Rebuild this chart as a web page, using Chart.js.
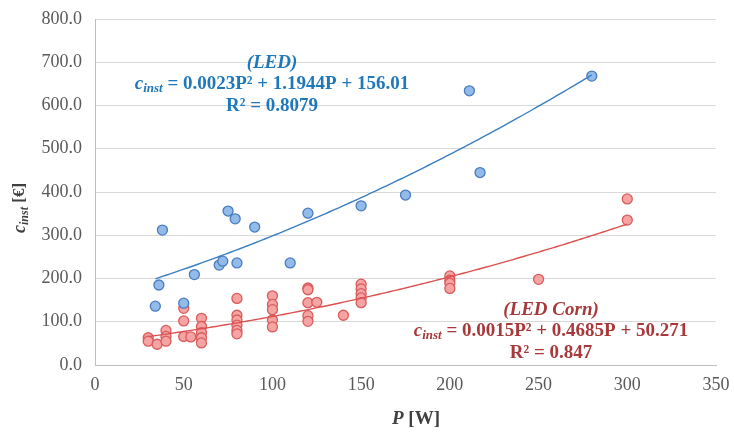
<!DOCTYPE html>
<html>
<head>
<meta charset="utf-8">
<script src="https://cdn.jsdelivr.net/npm/chart.js@4.4.0/dist/chart.umd.min.js"></script>
<style>
  html, body { margin: 0; padding: 0; background: #fff; }
</style>
</head>
<body>
<canvas id="myChart" width="734" height="436"></canvas>
<script>
// LED lamps: power [W] and installation cost [€]
const ledP    = [34, 36, 38, 50, 56, 70, 72, 75, 79, 80, 90, 110, 120, 150, 175, 211, 217, 280];
const ledCost = [136, 185, 312, 143, 209, 231, 240, 356, 338, 236, 319, 236, 351, 368, 393, 634, 445, 668];

// LED Corn lamps
const cornP    = [30, 30, 35, 40, 40, 40, 50, 50, 50, 54, 60, 60, 60, 60, 60,
                  80, 80, 80, 80, 80, 80, 100, 100, 100, 100, 100,
                  120, 120, 120, 120, 120, 125, 140, 150, 150, 150, 150, 150,
                  200, 200, 200, 200, 250, 300, 300];
const cornCost = [63, 55, 48, 80, 66, 55, 131, 102, 66, 65, 108, 89, 75, 63, 51,
                  154, 115, 104, 92, 80, 72, 160, 140, 128, 104, 88,
                  178, 174, 144, 114, 101, 145, 115, 187, 176, 165, 155, 144,
                  206, 196, 189, 177, 198, 384, 335];

// polynomial trendlines as printed on the chart (a, b, c for aP² + bP + c)
const ledFit  = [0.0023, 1.1944, 156.01];
const cornFit = [0.0015, 0.4685, 50.271];
const ledRange  = [34, 280];
const cornRange = [30, 300];

const xTicks = [0, 50, 100, 150, 200, 250, 300, 350];
const yTicks = [0, 100, 200, 300, 400, 500, 600, 700, 800];

function toPoints(xs, ys) {
  return xs.map((x, i) => ({ x: x, y: ys[i] }));
}

function trend(coef, range) {
  let pts = [];
  for (let x = range[0]; x <= range[1]; x += 2) {
    pts.push({ x: x, y: coef[0] * x * x + coef[1] * x + coef[2] });
  }
  return pts;
}

const SERIF = "'Liberation Serif', 'Times New Roman', serif";
const BLUE_TXT = '#1f78bb';
const RED_TXT = '#a8383a';

function drawParts(ctx, parts, cx, y) {
  let w = 0;
  parts.forEach(p => { ctx.font = p.font; w += ctx.measureText(p.text).width; });
  let x = cx - w / 2;
  parts.forEach(p => {
    ctx.font = p.font;
    ctx.fillText(p.text, x, y + (p.dy || 0));
    x += ctx.measureText(p.text).width;
  });
}

function eqParts(eq, size) {
  return [
    { text: 'c', font: 'italic bold ' + size + 'px ' + SERIF },
    { text: 'inst', font: 'italic bold ' + Math.round(size * 0.68) + 'px ' + SERIF, dy: 5 },
    { text: ' ' + eq, font: 'bold ' + size + 'px ' + SERIF }
  ];
}

const labelsPlugin = {
  id: 'labels',
  afterDraw(chart) {
    const ctx = chart.ctx;
    ctx.save();
    ctx.textBaseline = 'middle';

    // LED equation
    ctx.fillStyle = BLUE_TXT;
    drawParts(ctx, [{ text: '(LED)', font: 'italic bold 19px ' + SERIF }], 272, 63);
    drawParts(ctx, eqParts('= 0.0023P² + 1.1944P + 156.01', 19), 272, 84);
    drawParts(ctx, [{ text: 'R² = 0.8079', font: 'bold 19px ' + SERIF }], 272, 106);

    // LED Corn equation
    ctx.fillStyle = RED_TXT;
    drawParts(ctx, [{ text: '(LED Corn)', font: 'italic bold 19px ' + SERIF }], 551, 310);
    drawParts(ctx, eqParts('= 0.0015P² + 0.4685P + 50.271', 19), 551, 331);
    drawParts(ctx, [{ text: 'R² = 0.847', font: 'bold 19px ' + SERIF }], 551, 353);

    // axis titles
    ctx.fillStyle = '#404040';
    drawParts(ctx, [
      { text: 'P', font: 'italic bold 19px ' + SERIF },
      { text: ' [W]', font: 'bold 19px ' + SERIF }
    ], 416, 419);

    ctx.translate(20, 208);
    ctx.rotate(-Math.PI / 2);
    drawParts(ctx, [
      { text: 'c', font: 'italic bold 18px ' + SERIF },
      { text: 'inst', font: 'italic bold 12px ' + SERIF, dy: 5 },
      { text: ' [€]', font: 'bold 17px ' + SERIF }
    ], 0, 0);
    ctx.restore();
  }
};

let myChart = document.getElementById('myChart');

const data = {
  datasets: [
    {
      label: 'LED trend',
      type: 'line',
      data: trend(ledFit, ledRange),
      borderColor: '#3a7fc0',
      borderWidth: 1.4,
      pointRadius: 0,
      fill: false,
      tension: 0,
      order: 1
    },
    {
      label: 'LED Corn trend',
      type: 'line',
      data: trend(cornFit, cornRange),
      borderColor: '#dc5050',
      borderWidth: 1.4,
      pointRadius: 0,
      fill: false,
      tension: 0,
      order: 1
    },
    {
      label: 'LED',
      data: toPoints(ledP, ledCost),
      backgroundColor: '#93bbe9',
      borderColor: '#4a7cc0',
      borderWidth: 1.3,
      pointRadius: 5,
      order: 2
    },
    {
      label: 'LED Corn',
      data: toPoints(cornP, cornCost),
      backgroundColor: '#f5a3a3',
      borderColor: '#d95b5b',
      borderWidth: 1.3,
      pointRadius: 5,
      order: 3
    }
  ]
};

const config = {
  type: 'scatter',
  data: data,
  options: {
    responsive: false,
    animation: false,
    layout: { padding: { top: 19, right: 18, left: 0, bottom: 0 } },
    plugins: {
      legend: { display: false },
      tooltip: { enabled: false }
    },
    scales: {
      x: {
        type: 'linear',
        min: 0,
        max: 350,
        afterFit: s => { s.height = 71; s.paddingLeft = 0; s.paddingRight = 0; },
        afterBuildTicks: s => { s.ticks = xTicks.map(v => ({ value: v })); },
        grid: { display: false, drawTicks: false },
        border: { display: true, color: '#bfbfbf', width: 1 },
        ticks: {
          padding: 9,
          color: '#595959',
          font: { family: SERIF, size: 18 }
        }
      },
      y: {
        min: 0,
        max: 800,
        afterFit: s => { s.width = 95; s.paddingTop = 0; s.paddingBottom = 0; },
        afterBuildTicks: s => { s.ticks = yTicks.map(v => ({ value: v })); },
        grid: { color: '#d9d9d9', lineWidth: 1, drawTicks: false },
        border: { display: true, color: '#bfbfbf', width: 1 },
        ticks: {
          padding: 13,
          color: '#595959',
          font: { family: SERIF, size: 18 },
          callback: v => v.toFixed(1)
        }
      }
    }
  },
  plugins: [labelsPlugin]
};

let massPopChart = new Chart(myChart, config);
</script>
</body>
</html>
